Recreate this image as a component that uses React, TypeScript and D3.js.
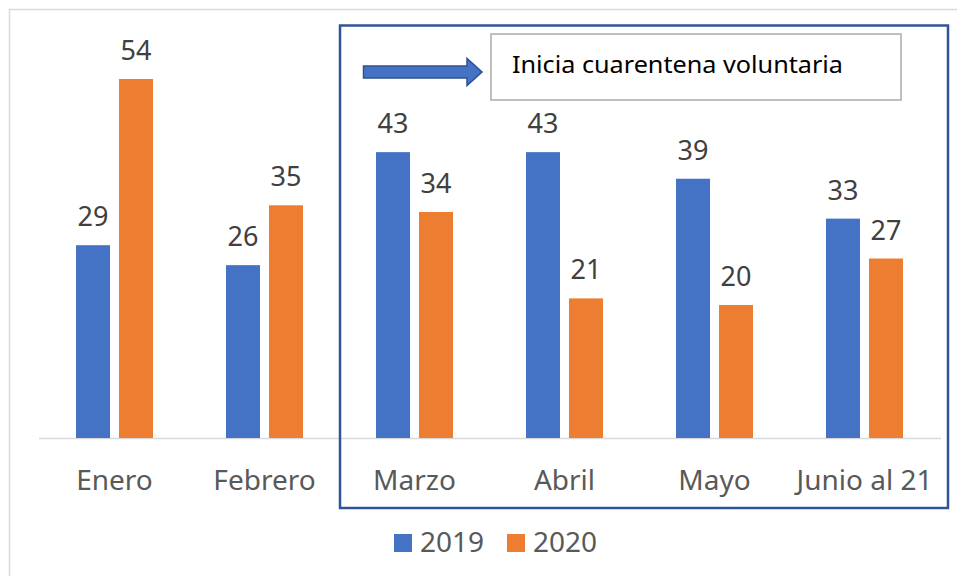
import React from "react";
import * as d3 from "d3";

const categories = ["Enero", "Febrero", "Marzo", "Abril", "Mayo", "Junio al 21"];
const series = ["2019", "2020"];
const values2019 = [29, 26, 43, 43, 39, 33];
const values2020 = [54, 35, 34, 21, 20, 27];
const colors = ["#4472C4", "#ED7D31"];
const annotationText = "Inicia cuarentena voluntaria";

const W = 957;
const H = 576;
const FONT = "'Noto Sans', 'Open Sans', sans-serif";

export default function App() {
  const x = d3
    .scaleBand<string>()
    .domain(categories)
    .range([39.5, 939.5])
    .paddingInner(0.4867)
    .paddingOuter(0.4867 / 2);
  const xs = d3
    .scaleBand<string>()
    .domain(series)
    .range([0, x.bandwidth()])
    .paddingInner(0.209);
  const y = d3.scaleLinear().domain([0, 60]).range([438, 438 - 60 * 6.648]);

  const data = [values2019, values2020];

  return (
    <svg
      width={W}
      height={H}
      style={{ position: "absolute", left: 0, top: 0, background: "#fff" }}
      fontFamily={FONT}
    >
      <rect x={0} y={0} width={W} height={H} fill="#fff" />
      {/* outer chart border */}
      <rect x={9.5} y={9.5} width={1200} height={1200} fill="none" stroke="#d9d9d9" strokeWidth={1.5} />

      {/* axis baseline */}
      <line x1={39} x2={941} y1={438.5} y2={438.5} stroke="#d9d9d9" strokeWidth={1.5} />

      {/* bars */}
      {data.map((vals, si) =>
        vals.map((v, i) => {
          const bx = (x(categories[i]) as number) + (xs(series[si]) as number);
          return (
            <g key={`${si}-${i}`}>
              <rect x={bx} y={y(v)} width={xs.bandwidth()} height={y(0) - y(v)} fill={colors[si]} />
              <text
                x={bx + xs.bandwidth() / 2}
                y={y(v) - 19}
                textAnchor="middle"
                fontSize={27}
                fill="#404040"
              >
                {v}
              </text>
            </g>
          );
        })
      )}

      {/* category labels */}
      {categories.map((c) => (
        <text
          key={c}
          x={(x(c) as number) + x.bandwidth() / 2}
          y={490}
          textAnchor="middle"
          fontSize={28}
          fill="#595959"
        >
          {c}
        </text>
      ))}

      {/* highlight frame */}
      <rect x={340} y={25.5} width={608} height={482.5} fill="none" stroke="#2F5597" strokeWidth={2.5} />

      {/* arrow */}
      <polygon
        points="363.5,66 467,66 467,58.5 482,72 467,85.5 467,78 363.5,78"
        fill="#4472C4"
        stroke="#2F528F"
        strokeWidth={1.5}
      />

      {/* annotation box */}
      <rect x={491} y={34} width={410} height={66} fill="#fff" stroke="#bfbfbf" strokeWidth={2} />
      <text x={512} y={73} fontSize={24} fill="#000" textLength={331} lengthAdjust="spacingAndGlyphs">
        {annotationText}
      </text>

      {/* legend */}
      {series.map((s, i) => {
        const lx = [394, 507][i];
        return (
          <g key={s}>
            <rect x={lx} y={534} width={18} height={18} fill={colors[i]} />
            <text x={lx + 26} y={552} fontSize={28} fill="#595959">
              {s}
            </text>
          </g>
        );
      })}
    </svg>
  );
}
